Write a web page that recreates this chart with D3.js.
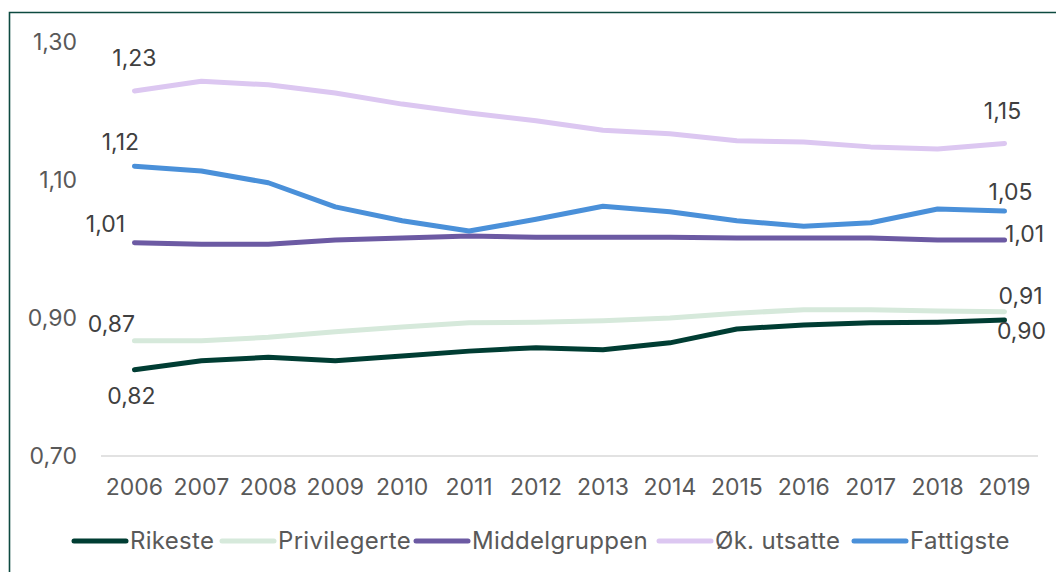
<!DOCTYPE html>
<html>
<head>
<meta charset="utf-8">
<script src="https://cdn.jsdelivr.net/npm/d3@7"></script>
<style>
    body { margin: 0; background: #fff; }
    svg { display: block; font-family: Inter, "Noto Sans", sans-serif; }
    .tick-label { fill: #595959; font-size: 23px; }
    .value-label { fill: #404040; font-size: 23px; }
    .legend-text { fill: #595959; font-size: 24px; letter-spacing: 0.3px; }
</style>
</head>
<body>
<div id="wrapper"></div>
<script>
// data
const years = ['2006', '2007', '2008', '2009', '2010', '2011', '2012', '2013', '2014', '2015', '2016', '2017', '2018', '2019']
const seriesNames = ['Rikeste', 'Privilegerte', 'Middelgruppen', 'Øk. utsatte', 'Fattigste']
const seriesColors = ['#003d33', '#d6e9db', '#6c5aa3', '#dcc7f1', '#4a90d9']

const rikeste = [0.825, 0.838, 0.843, 0.838, 0.845, 0.852, 0.857, 0.854, 0.864, 0.884, 0.890, 0.893, 0.894, 0.897]
const privilegerte = [0.867, 0.867, 0.872, 0.880, 0.887, 0.893, 0.894, 0.896, 0.900, 0.907, 0.912, 0.912, 0.910, 0.909]
const middelgruppen = [1.009, 1.007, 1.007, 1.013, 1.016, 1.019, 1.017, 1.017, 1.017, 1.016, 1.016, 1.016, 1.013, 1.013]
const okUtsatte = [1.229, 1.243, 1.238, 1.226, 1.210, 1.197, 1.186, 1.172, 1.167, 1.157, 1.155, 1.148, 1.145, 1.153]
const fattigste = [1.120, 1.113, 1.096, 1.061, 1.041, 1.026, 1.043, 1.062, 1.054, 1.041, 1.033, 1.038, 1.058, 1.055]

const yTicks = [0.70, 0.90, 1.10, 1.30]

// labels at start and end of each line: [series index, year index, dx, dy]
const valueLabels = [
    [3, 0, 0, -33], [4, 0, -14, -24], [2, 0, -29, -19],
    [1, 0, -23, -17], [0, 0, -3, 26],
    [3, 13, -2, -32], [4, 13, 6, -19], [2, 13, 20, -6],
    [1, 13, 16, -16], [0, 13, 17, 11]
]

const allSeries = [rikeste, privilegerte, middelgruppen, okUtsatte, fattigste]
const fmt = v => d3.format('.2f')(v).replace('.', ',')

const width = 1056, height = 572
const dims = { left: 101, right: 1038, top: 42, bottom: 456 }

const svg = d3.select('#wrapper').append('svg')
    .attr('width', width)
    .attr('height', height)

// frame
svg.append('path')
    .attr('d', `M9.5,${height} V12.5 H${width}`)
    .attr('fill', 'none')
    .attr('stroke', '#0d4a40')
    .attr('stroke-width', 1.6)

const x = d3.scaleBand().domain(years).range([dims.left, dims.right])
const xc = d => x(d) + x.bandwidth() / 2
const y = d3.scaleLinear().domain([0.70, 1.30]).range([dims.bottom, dims.top])

// baseline
svg.append('line')
    .attr('x1', dims.left).attr('x2', dims.right)
    .attr('y1', y(0.70)).attr('y2', y(0.70))
    .attr('stroke', '#d9d9d9')
    .attr('stroke-width', 1.5)

// y tick labels
svg.selectAll('.ytick')
    .data(yTicks)
    .enter().append('text')
    .attr('class', 'tick-label')
    .attr('x', 77)
    .attr('y', d => y(d))
    .attr('dy', '0.35em')
    .attr('text-anchor', 'end')
    .text(fmt)

// x tick labels
svg.selectAll('.xtick')
    .data(years)
    .enter().append('text')
    .attr('class', 'tick-label')
    .attr('x', xc)
    .attr('y', 487)
    .attr('dy', '0.35em')
    .attr('text-anchor', 'middle')
    .text(d => d)

// lines
const line = d3.line()
    .x((d, i) => xc(years[i]))
    .y(d => y(d))

svg.selectAll('.series')
    .data(allSeries)
    .enter().append('path')
    .attr('class', 'series')
    .attr('d', line)
    .attr('fill', 'none')
    .attr('stroke', (d, i) => seriesColors[i])
    .attr('stroke-width', 5)
    .attr('stroke-linecap', 'round')
    .attr('stroke-linejoin', 'round')

// value labels
svg.selectAll('.value-label')
    .data(valueLabels)
    .enter().append('text')
    .attr('class', 'value-label')
    .attr('x', d => xc(years[d[1]]) + d[2])
    .attr('y', d => y(allSeries[d[0]][d[1]]) + d[3])
    .attr('dy', '0.35em')
    .attr('text-anchor', 'middle')
    .text(d => fmt(allSeries[d[0]][d[1]]))

// legend
const legendX = [72, 220, 414, 657, 852]
const legend = svg.selectAll('.legend')
    .data(seriesNames)
    .enter().append('g')
    .attr('transform', (d, i) => `translate(${legendX[i]},541)`)

legend.append('line')
    .attr('x1', 2).attr('x2', 54)
    .attr('stroke', (d, i) => seriesColors[i])
    .attr('stroke-width', 5)
    .attr('stroke-linecap', 'round')

legend.append('text')
    .attr('class', 'legend-text')
    .attr('x', 58)
    .attr('dy', '0.35em')
    .text(d => d)
</script>
</body>
</html>
